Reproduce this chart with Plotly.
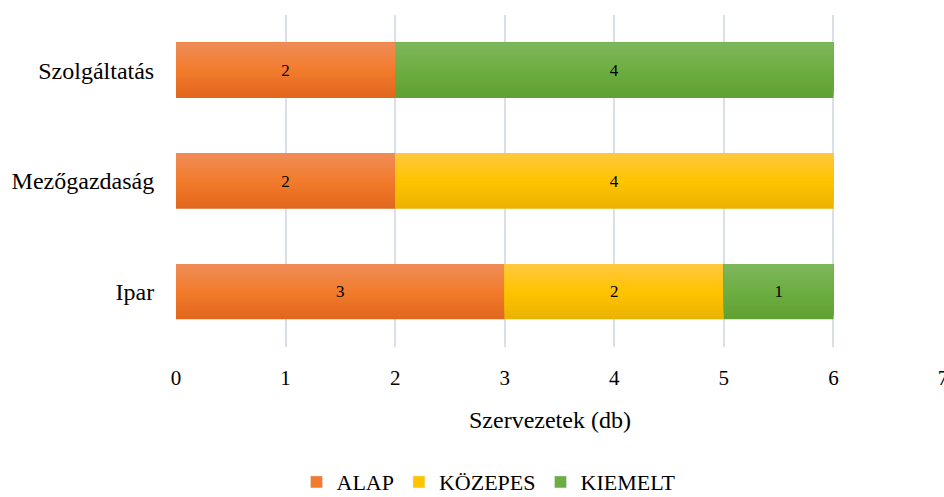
import plotly.graph_objects as go

# Data
categories = ["Ipar", "Mezőgazdaság", "Szolgáltatás"]
series_names = ["ALAP", "KÖZEPES", "KIEMELT"]
alap = [3, 2, 2]
kozepes = [2, 4, 0]
kiemelt = [1, 0, 4]
x_ticks = [0, 1, 2, 3, 4, 5, 6, 7]
x_title = "Szervezetek (db)"

series_values = [alap, kozepes, kiemelt]

# Vertical gradient stops per series: (bottom, middle, top)
gradients = [
    ("#E0661C", "#F27B2C", "#EF8D58"),
    ("#EAB200", "#FFC400", "#FFC840"),
    ("#60A032", "#6DAE42", "#7DB75C"),
]

FONT = "Liberation Serif"
BAR_W = 0.5
N_STRIPS = 24


def hex_to_rgb(h):
    h = h.lstrip("#")
    return tuple(int(h[i:i + 2], 16) for i in (0, 2, 4))


def lerp(c1, c2, t):
    a, b = hex_to_rgb(c1), hex_to_rgb(c2)
    return "rgb({},{},{})".format(*[round(a[i] + (b[i] - a[i]) * t) for i in range(3)])


def grad_color(stops, t):
    lo, mid, hi = stops
    if t <= 0.5:
        return lerp(lo, mid, t / 0.5)
    return lerp(mid, hi, (t - 0.5) / 0.5)


fig = go.Figure()

# Stacking bases computed from the data
bases = []
running = [0] * len(categories)
for vals in series_values:
    bases.append(list(running))
    running = [r + v for r, v in zip(running, vals)]

step = BAR_W / N_STRIPS
for s, (name, vals) in enumerate(zip(series_names, series_values)):
    # thin horizontal strips painted bottom-up to give a vertical gradient
    for k in range(N_STRIPS):
        t = (k + 0.5) / N_STRIPS
        fig.add_trace(go.Bar(
            y=categories,
            x=vals,
            base=bases[s],
            orientation="h",
            offset=-BAR_W / 2 + k * step,
            width=BAR_W - k * step,
            marker=dict(color=grad_color(gradients[s], t), line=dict(width=0)),
            name=name,
            legendgroup=name,
            showlegend=False,
            hoverinfo="skip",
        ))
    # legend entry with the series' main colour
    fig.add_trace(go.Bar(
        y=[None], x=[None], orientation="h",
        marker=dict(color=gradients[s][1]),
        name=name, legendgroup=name, showlegend=True,
    ))

# Value labels
for s, vals in enumerate(series_values):
    fig.add_trace(go.Bar(
        y=categories,
        x=vals,
        base=bases[s],
        orientation="h",
        offset=-BAR_W / 2,
        width=BAR_W,
        marker=dict(color="rgba(0,0,0,0)", line=dict(width=0)),
        text=[str(v) if v else "" for v in vals],
        textposition="inside",
        insidetextanchor="middle",
        textangle=0,
        constraintext="none",
        textfont=dict(family=FONT, size=17, color="#000000"),
        showlegend=False,
        hoverinfo="skip",
    ))

fig.update_layout(
    width=944,
    height=497,
    margin=dict(l=176, r=1, t=15, b=150, autoexpand=False),
    barmode="overlay",
    plot_bgcolor="white",
    paper_bgcolor="white",
    font=dict(family=FONT, color="#000000"),
    showlegend=True,
    legend=dict(
        orientation="h",
        xref="container", yref="container",
        x=0.518, xanchor="center",
        y=0.03, yanchor="middle",
        font=dict(family=FONT, size=22, color="#000000"),
        traceorder="normal",
        itemwidth=30,
    ),
    annotations=[dict(
        text=x_title, xref="paper", yref="paper",
        x=0.487, y=-0.22, xanchor="center", yanchor="middle",
        showarrow=False, font=dict(family=FONT, size=24, color="#000000"),
    )],
)

fig.update_xaxes(
    range=[0, 7],
    tickvals=x_ticks,
    automargin=False,
    showgrid=True,
    gridcolor="#DADFE8",
    gridwidth=1.5,
    zeroline=False,
    showline=False,
    ticks="outside",
    ticklen=12,
    tickcolor="rgba(0,0,0,0)",
    tickfont=dict(family=FONT, size=21, color="#000000"),
    ticklabeloverflow="allow",
)
fig.update_yaxes(
    categoryorder="array",
    categoryarray=categories,
    automargin=False,
    showgrid=False,
    zeroline=False,
    showline=False,
    ticks="outside",
    ticklen=16,
    tickcolor="rgba(0,0,0,0)",
    tickfont=dict(family=FONT, size=24, color="#000000"),
)

fig.write_html("out.html")
